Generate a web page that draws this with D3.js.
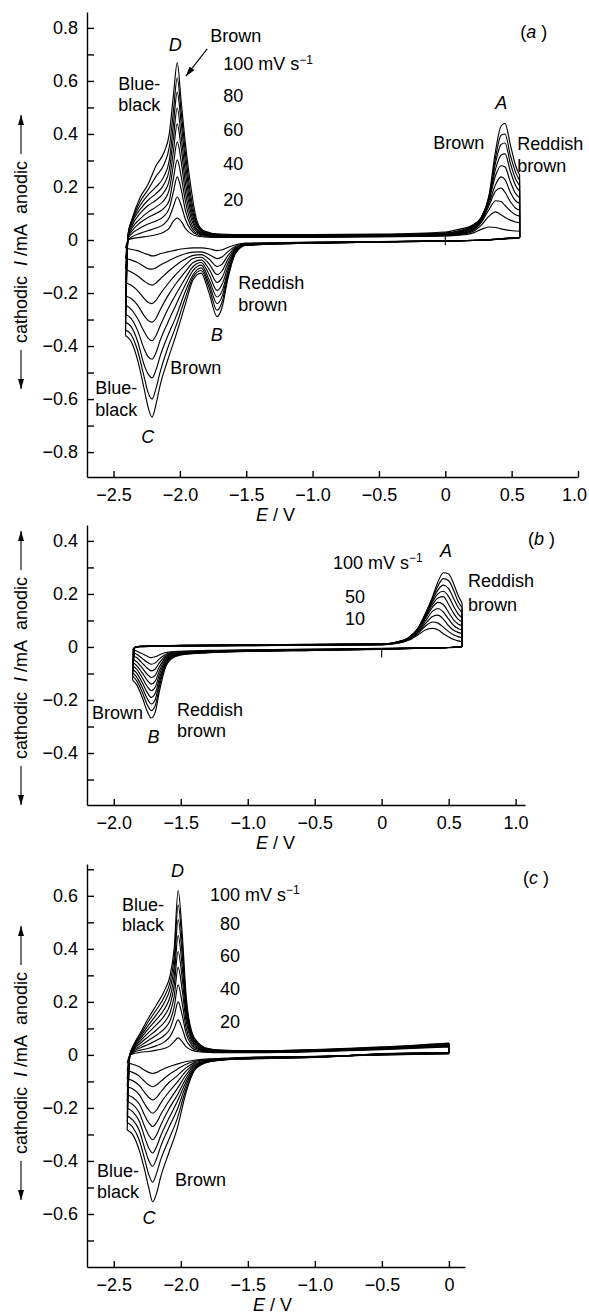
<!DOCTYPE html>
<html>
<head>
<meta charset="utf-8">
<script src="https://cdn.jsdelivr.net/npm/d3@7"></script>
<style>
  body { margin: 0; background: #fff; }
  svg text { font-family: "Liberation Sans", Arial, Helvetica, sans-serif; fill: #000; }
</style>
</head>
<body>
<script>
// scan rates, one curve each (mV/s)
const scanRates = [10, 20, 30, 40, 50, 60, 70, 80, 90, 100];

// ---- panel (a): cathodic sweep (read right to left), currents in mA
const aCathE = [-2.41, -2.37, -2.32, -2.27, -2.24, -2.21, -2.18, -2.15, -2.09, -2.03, -1.96, -1.90, -1.84, -1.78, -1.72, -1.68, -1.64, -1.58, -1.50, -1.0, -0.5, 0.0, 0.3, 0.56];
const aCathI = [
  [-0.03, -0.035, -0.04, -0.05, -0.055, -0.06, -0.058, -0.052, -0.045, -0.038, -0.032, -0.03, -0.03, -0.033, -0.04, -0.037, -0.028, -0.018, -0.012, -0.008, -0.006, -0.003, 0.0, 0.008],
  [-0.07, -0.075, -0.085, -0.10, -0.108, -0.11, -0.105, -0.095, -0.08, -0.065, -0.052, -0.046, -0.045, -0.055, -0.07, -0.063, -0.045, -0.024, -0.014, -0.009, -0.006, -0.003, 0.0, 0.008],
  [-0.11, -0.12, -0.135, -0.155, -0.165, -0.17, -0.162, -0.148, -0.12, -0.095, -0.072, -0.058, -0.055, -0.072, -0.10, -0.09, -0.06, -0.028, -0.015, -0.01, -0.007, -0.003, 0.0, 0.009],
  [-0.16, -0.17, -0.19, -0.22, -0.235, -0.24, -0.228, -0.205, -0.165, -0.13, -0.095, -0.07, -0.065, -0.09, -0.13, -0.115, -0.075, -0.032, -0.016, -0.01, -0.007, -0.003, 0.0, 0.009],
  [-0.21, -0.22, -0.245, -0.285, -0.303, -0.31, -0.295, -0.265, -0.21, -0.165, -0.12, -0.085, -0.075, -0.11, -0.16, -0.14, -0.09, -0.036, -0.017, -0.011, -0.007, -0.003, 0.0, 0.01],
  [-0.245, -0.26, -0.295, -0.345, -0.37, -0.38, -0.36, -0.325, -0.26, -0.205, -0.145, -0.10, -0.085, -0.13, -0.19, -0.165, -0.105, -0.04, -0.018, -0.011, -0.007, -0.003, 0.0, 0.01],
  [-0.28, -0.295, -0.34, -0.41, -0.44, -0.45, -0.425, -0.38, -0.31, -0.245, -0.17, -0.115, -0.095, -0.15, -0.215, -0.19, -0.12, -0.043, -0.019, -0.012, -0.008, -0.004, 0.0, 0.01],
  [-0.31, -0.325, -0.38, -0.47, -0.505, -0.52, -0.49, -0.44, -0.36, -0.29, -0.195, -0.13, -0.105, -0.165, -0.24, -0.21, -0.13, -0.046, -0.019, -0.012, -0.008, -0.004, 0.0, 0.01],
  [-0.34, -0.355, -0.415, -0.515, -0.575, -0.60, -0.56, -0.50, -0.405, -0.325, -0.22, -0.14, -0.115, -0.18, -0.265, -0.23, -0.14, -0.048, -0.02, -0.012, -0.008, -0.004, 0.0, 0.01],
  [-0.36, -0.38, -0.45, -0.56, -0.63, -0.668, -0.62, -0.55, -0.45, -0.36, -0.245, -0.15, -0.125, -0.20, -0.289, -0.25, -0.15, -0.05, -0.02, -0.012, -0.008, -0.004, 0.0, 0.01]
];
// anodic sweep
const aAnodE = [-2.41, -2.39, -2.36, -2.30, -2.24, -2.18, -2.12, -2.08, -2.05, -2.02, -1.99, -1.96, -1.92, -1.87, -1.82, -1.7, -1.5, -1.0, -0.5, 0.0, 0.1, 0.2, 0.27, 0.33, 0.38, 0.42, 0.45, 0.49, 0.53, 0.56];
const aAnodI = [
  [-0.03, 0.0, 0.005, 0.01, 0.014, 0.02, 0.03, 0.045, 0.07, 0.083, 0.07, 0.045, 0.025, 0.015, 0.012, 0.01, 0.01, 0.01, 0.012, 0.015, 0.018, 0.025, 0.04, 0.049, 0.047, 0.042, 0.039, 0.036, 0.034, 0.033],
  [-0.07, 0.0, 0.012, 0.025, 0.035, 0.045, 0.06, 0.085, 0.125, 0.162, 0.13, 0.08, 0.04, 0.02, 0.015, 0.012, 0.011, 0.011, 0.013, 0.016, 0.02, 0.03, 0.055, 0.09, 0.106, 0.095, 0.085, 0.075, 0.068, 0.065],
  [-0.11, 0.005, 0.025, 0.045, 0.06, 0.072, 0.09, 0.12, 0.18, 0.238, 0.19, 0.115, 0.055, 0.025, 0.018, 0.013, 0.012, 0.012, 0.014, 0.018, 0.022, 0.034, 0.065, 0.115, 0.148, 0.145, 0.13, 0.11, 0.095, 0.09],
  [-0.16, 0.01, 0.035, 0.065, 0.085, 0.10, 0.12, 0.15, 0.23, 0.302, 0.24, 0.15, 0.07, 0.03, 0.02, 0.015, 0.013, 0.013, 0.015, 0.019, 0.024, 0.037, 0.07, 0.13, 0.185, 0.196, 0.18, 0.145, 0.12, 0.113],
  [-0.21, 0.012, 0.045, 0.08, 0.105, 0.125, 0.15, 0.19, 0.28, 0.37, 0.295, 0.185, 0.09, 0.035, 0.022, 0.016, 0.014, 0.014, 0.016, 0.02, 0.026, 0.04, 0.075, 0.14, 0.21, 0.238, 0.228, 0.18, 0.148, 0.138],
  [-0.245, 0.015, 0.055, 0.10, 0.13, 0.15, 0.18, 0.225, 0.33, 0.438, 0.345, 0.22, 0.11, 0.04, 0.025, 0.017, 0.015, 0.015, 0.017, 0.022, 0.028, 0.044, 0.078, 0.15, 0.245, 0.28, 0.275, 0.22, 0.175, 0.16],
  [-0.28, 0.018, 0.065, 0.115, 0.15, 0.175, 0.21, 0.265, 0.38, 0.498, 0.39, 0.26, 0.13, 0.048, 0.028, 0.018, 0.016, 0.016, 0.018, 0.024, 0.03, 0.047, 0.08, 0.155, 0.27, 0.32, 0.325, 0.26, 0.205, 0.185],
  [-0.31, 0.02, 0.07, 0.13, 0.17, 0.20, 0.24, 0.30, 0.43, 0.558, 0.44, 0.30, 0.15, 0.055, 0.03, 0.019, 0.017, 0.017, 0.019, 0.025, 0.032, 0.05, 0.082, 0.16, 0.295, 0.36, 0.366, 0.29, 0.23, 0.205],
  [-0.34, 0.022, 0.075, 0.145, 0.19, 0.24, 0.285, 0.35, 0.48, 0.611, 0.48, 0.335, 0.175, 0.06, 0.032, 0.02, 0.018, 0.018, 0.02, 0.027, 0.035, 0.052, 0.084, 0.165, 0.315, 0.395, 0.40, 0.32, 0.255, 0.225],
  [-0.36, 0.025, 0.08, 0.16, 0.21, 0.28, 0.33, 0.40, 0.54, 0.668, 0.52, 0.37, 0.21, 0.07, 0.035, 0.022, 0.02, 0.02, 0.022, 0.03, 0.04, 0.055, 0.085, 0.17, 0.34, 0.43, 0.44, 0.36, 0.28, 0.245]
];

// ---- panel (b)
const bCathE = [-1.86, -1.83, -1.79, -1.75, -1.72, -1.69, -1.66, -1.62, -1.57, -1.5, -1.3, -1.0, -0.5, 0.0, 0.3, 0.5, 0.6];
const bCathI = [
  [-0.01, -0.015, -0.025, -0.035, -0.04, -0.037, -0.03, -0.022, -0.018, -0.016, -0.013, -0.011, -0.008, -0.005, -0.003, -0.002, 0.0],
  [-0.02, -0.027, -0.042, -0.058, -0.065, -0.06, -0.045, -0.03, -0.021, -0.018, -0.014, -0.012, -0.009, -0.006, -0.004, -0.002, 0.0],
  [-0.032, -0.04, -0.06, -0.08, -0.09, -0.083, -0.06, -0.037, -0.024, -0.02, -0.015, -0.013, -0.01, -0.006, -0.004, -0.002, 0.0],
  [-0.045, -0.055, -0.078, -0.103, -0.115, -0.106, -0.075, -0.044, -0.027, -0.022, -0.016, -0.014, -0.01, -0.007, -0.004, -0.002, 0.001],
  [-0.058, -0.07, -0.096, -0.126, -0.14, -0.128, -0.09, -0.05, -0.03, -0.024, -0.017, -0.014, -0.011, -0.007, -0.004, -0.002, 0.001],
  [-0.07, -0.084, -0.114, -0.149, -0.165, -0.151, -0.105, -0.057, -0.033, -0.026, -0.018, -0.015, -0.011, -0.007, -0.004, -0.002, 0.001],
  [-0.083, -0.098, -0.132, -0.172, -0.19, -0.174, -0.12, -0.064, -0.036, -0.027, -0.019, -0.015, -0.012, -0.008, -0.005, -0.002, 0.001],
  [-0.097, -0.113, -0.15, -0.195, -0.215, -0.197, -0.135, -0.071, -0.039, -0.028, -0.02, -0.016, -0.012, -0.008, -0.005, -0.002, 0.001],
  [-0.11, -0.127, -0.168, -0.218, -0.24, -0.22, -0.15, -0.078, -0.042, -0.029, -0.021, -0.016, -0.013, -0.008, -0.005, -0.002, 0.002],
  [-0.125, -0.142, -0.187, -0.243, -0.268, -0.245, -0.168, -0.086, -0.045, -0.03, -0.022, -0.017, -0.013, -0.009, -0.005, -0.003, 0.002]
];
const bAnodE = [-1.86, -1.84, -1.8, -1.7, -1.5, -1.0, -0.5, 0.0, 0.1, 0.2, 0.27, 0.33, 0.38, 0.42, 0.46, 0.5, 0.54, 0.57, 0.6];
const bAnodI = [
  [-0.01, 0.0, 0.001, 0.002, 0.003, 0.005, 0.006, 0.008, 0.012, 0.025, 0.045, 0.065, 0.07, 0.065, 0.05, 0.038, 0.028, 0.023, 0.02],
  [-0.02, 0.0, 0.001, 0.002, 0.003, 0.005, 0.007, 0.009, 0.013, 0.027, 0.05, 0.08, 0.094, 0.09, 0.075, 0.058, 0.045, 0.039, 0.035],
  [-0.032, 0.0, 0.001, 0.003, 0.004, 0.006, 0.007, 0.009, 0.014, 0.028, 0.055, 0.09, 0.115, 0.12, 0.105, 0.08, 0.062, 0.055, 0.05],
  [-0.045, 0.0, 0.002, 0.003, 0.004, 0.006, 0.008, 0.01, 0.015, 0.03, 0.058, 0.10, 0.135, 0.145, 0.132, 0.105, 0.08, 0.07, 0.065],
  [-0.058, 0.0, 0.002, 0.003, 0.005, 0.006, 0.008, 0.01, 0.015, 0.031, 0.061, 0.11, 0.15, 0.168, 0.16, 0.13, 0.1, 0.087, 0.08],
  [-0.07, 0.0, 0.002, 0.003, 0.005, 0.007, 0.009, 0.011, 0.016, 0.032, 0.064, 0.115, 0.16, 0.185, 0.19, 0.16, 0.125, 0.105, 0.095],
  [-0.083, 0.0, 0.002, 0.004, 0.005, 0.007, 0.009, 0.011, 0.016, 0.033, 0.066, 0.12, 0.17, 0.2, 0.21, 0.19, 0.15, 0.125, 0.11],
  [-0.097, 0.0, 0.002, 0.004, 0.006, 0.007, 0.009, 0.011, 0.017, 0.034, 0.068, 0.125, 0.178, 0.215, 0.233, 0.22, 0.18, 0.15, 0.13],
  [-0.11, 0.0, 0.002, 0.004, 0.006, 0.008, 0.01, 0.012, 0.017, 0.035, 0.069, 0.128, 0.185, 0.23, 0.258, 0.25, 0.21, 0.172, 0.148],
  [-0.125, 0.0, 0.002, 0.004, 0.006, 0.008, 0.01, 0.012, 0.018, 0.035, 0.07, 0.13, 0.19, 0.245, 0.28, 0.275, 0.235, 0.195, 0.166]
];

// ---- panel (c)
const cCathE = [-2.40, -2.36, -2.31, -2.27, -2.24, -2.21, -2.18, -2.15, -2.09, -2.03, -1.96, -1.90, -1.84, -1.78, -1.7, -1.6, -1.5, -1.0, -0.5, 0.0];
const cCathI = [
  [-0.03, -0.035, -0.045, -0.058, -0.066, -0.07, -0.066, -0.058, -0.045, -0.035, -0.025, -0.02, -0.017, -0.015, -0.013, -0.011, -0.009, -0.005, 0.0, 0.004],
  [-0.06, -0.066, -0.08, -0.1, -0.113, -0.12, -0.113, -0.1, -0.075, -0.055, -0.035, -0.025, -0.02, -0.017, -0.015, -0.012, -0.01, -0.006, 0.0, 0.005],
  [-0.09, -0.097, -0.115, -0.142, -0.16, -0.17, -0.16, -0.14, -0.105, -0.08, -0.048, -0.03, -0.023, -0.019, -0.016, -0.013, -0.011, -0.006, 0.001, 0.006],
  [-0.12, -0.128, -0.15, -0.185, -0.207, -0.22, -0.207, -0.182, -0.14, -0.105, -0.06, -0.035, -0.026, -0.02, -0.017, -0.014, -0.012, -0.007, 0.001, 0.007],
  [-0.15, -0.16, -0.185, -0.228, -0.255, -0.27, -0.254, -0.225, -0.175, -0.13, -0.075, -0.04, -0.028, -0.021, -0.018, -0.015, -0.012, -0.007, 0.002, 0.007],
  [-0.175, -0.187, -0.218, -0.27, -0.302, -0.32, -0.3, -0.265, -0.205, -0.155, -0.088, -0.045, -0.03, -0.022, -0.018, -0.015, -0.013, -0.008, 0.002, 0.008],
  [-0.2, -0.214, -0.25, -0.31, -0.35, -0.37, -0.345, -0.305, -0.24, -0.18, -0.1, -0.05, -0.031, -0.023, -0.019, -0.016, -0.013, -0.008, 0.003, 0.008],
  [-0.23, -0.245, -0.285, -0.352, -0.397, -0.42, -0.39, -0.345, -0.275, -0.21, -0.113, -0.054, -0.033, -0.024, -0.019, -0.016, -0.014, -0.009, 0.003, 0.009],
  [-0.255, -0.272, -0.322, -0.393, -0.45, -0.48, -0.445, -0.395, -0.32, -0.245, -0.127, -0.057, -0.034, -0.025, -0.02, -0.016, -0.015, -0.009, 0.004, 0.009],
  [-0.283, -0.30, -0.36, -0.434, -0.50, -0.554, -0.52, -0.46, -0.37, -0.283, -0.14, -0.06, -0.035, -0.025, -0.02, -0.017, -0.015, -0.01, 0.005, 0.01]
];
const cAnodE = [-2.40, -2.38, -2.35, -2.30, -2.24, -2.18, -2.12, -2.08, -2.05, -2.02, -1.99, -1.96, -1.92, -1.87, -1.82, -1.7, -1.5, -1.0, -0.5, 0.0];
const cAnodI = [
  [-0.03, 0.0, 0.005, 0.01, 0.013, 0.018, 0.025, 0.035, 0.05, 0.064, 0.05, 0.03, 0.018, 0.012, 0.01, 0.008, 0.008, 0.012, 0.02, 0.03],
  [-0.06, 0.0, 0.01, 0.018, 0.025, 0.035, 0.05, 0.07, 0.1, 0.132, 0.1, 0.055, 0.028, 0.016, 0.012, 0.009, 0.009, 0.013, 0.022, 0.032],
  [-0.09, 0.0, 0.014, 0.027, 0.04, 0.055, 0.075, 0.1, 0.145, 0.2, 0.15, 0.08, 0.038, 0.02, 0.014, 0.01, 0.01, 0.014, 0.023, 0.034],
  [-0.12, 0.0, 0.018, 0.035, 0.055, 0.075, 0.1, 0.13, 0.18, 0.264, 0.195, 0.1, 0.047, 0.024, 0.016, 0.011, 0.011, 0.015, 0.024, 0.036],
  [-0.15, 0.0, 0.022, 0.045, 0.07, 0.095, 0.125, 0.16, 0.22, 0.33, 0.245, 0.125, 0.056, 0.028, 0.018, 0.012, 0.012, 0.016, 0.025, 0.038],
  [-0.175, 0.0, 0.026, 0.054, 0.085, 0.115, 0.15, 0.19, 0.26, 0.39, 0.29, 0.145, 0.064, 0.032, 0.02, 0.013, 0.012, 0.017, 0.026, 0.04],
  [-0.2, 0.0, 0.03, 0.062, 0.1, 0.135, 0.175, 0.22, 0.295, 0.45, 0.335, 0.165, 0.072, 0.036, 0.022, 0.014, 0.013, 0.018, 0.027, 0.041],
  [-0.23, 0.0, 0.033, 0.07, 0.113, 0.153, 0.2, 0.25, 0.33, 0.51, 0.38, 0.185, 0.078, 0.04, 0.024, 0.016, 0.014, 0.019, 0.028, 0.042],
  [-0.255, 0.0, 0.037, 0.078, 0.127, 0.172, 0.222, 0.275, 0.365, 0.566, 0.42, 0.2, 0.084, 0.043, 0.026, 0.017, 0.015, 0.019, 0.029, 0.044],
  [-0.283, 0.0, 0.04, 0.085, 0.14, 0.19, 0.245, 0.30, 0.40, 0.62, 0.46, 0.22, 0.09, 0.045, 0.027, 0.018, 0.015, 0.02, 0.03, 0.045]
];

// ticks
const aXTicks = [-2.5, -2.0, -1.5, -1.0, -0.5, 0, 0.5, 1.0];
const aYTicks = [-0.8, -0.7, -0.6, -0.5, -0.4, -0.3, -0.2, -0.1, 0, 0.1, 0.2, 0.3, 0.4, 0.5, 0.6, 0.7, 0.8];
const bXTicks = [-2.0, -1.5, -1.0, -0.5, 0, 0.5, 1.0];
const bYTicks = [-0.5, -0.4, -0.3, -0.2, -0.1, 0, 0.1, 0.2, 0.3, 0.4];
const cXTicks = [-2.5, -2.0, -1.5, -1.0, -0.5, 0];
const cYTicks = [-0.7, -0.6, -0.5, -0.4, -0.3, -0.2, -0.1, 0, 0.1, 0.2, 0.3, 0.4, 0.5, 0.6, 0.7];

// annotations, placed in data units (E / V, I / mA)
const aNotes = [
  { t: "D", e: -2.035, i: 0.736, it: true, mid: true },
  { t: "Brown", e: -1.771, i: 0.77 },
  { t: "Blue-", e: -2.464, i: 0.59 },
  { t: "black", e: -2.464, i: 0.509 },
  { t: "100 mV s", sup: "\u22121", e: -1.673, i: 0.664 },
  { t: "80", e: -1.673, i: 0.543 },
  { t: "60", e: -1.673, i: 0.415 },
  { t: "40", e: -1.673, i: 0.289 },
  { t: "20", e: -1.673, i: 0.151 },
  { t: "A", e: 0.422, i: 0.519, it: true, mid: true },
  { t: "Brown", e: -0.09, i: 0.368 },
  { t: "Reddish", e: 0.543, i: 0.364 },
  { t: "brown", e: 0.543, i: 0.281 },
  { t: "Reddish", e: -1.56, i: -0.16 },
  { t: "brown", e: -1.56, i: -0.243 },
  { t: "B", e: -1.722, i: -0.358, it: true, mid: true },
  { t: "Brown", e: -2.072, i: -0.481 },
  { t: "Blue-", e: -2.638, i: -0.557 },
  { t: "black", e: -2.638, i: -0.64 },
  { t: "C", e: -2.242, i: -0.742, it: true, mid: true },
  { tag: "a", e: 0.565, i: 0.785 }
];
const aArrow = [[-1.794, 0.721], [-1.955, 0.618]];
const bNotes = [
  { tag: "b", e: 1.093, i: 0.408 },
  { t: "100 mV s", sup: "\u22121", e: -0.363, i: 0.318 },
  { t: "A", e: 0.481, i: 0.364, it: true, mid: true },
  { t: "50", e: -0.273, i: 0.19 },
  { t: "10", e: -0.273, i: 0.107 },
  { t: "Reddish", e: 0.645, i: 0.25 },
  { t: "brown", e: 0.645, i: 0.159 },
  { t: "Brown", e: -2.163, i: -0.247 },
  { t: "B", e: -1.704, i: -0.338, it: true, mid: true },
  { t: "Reddish", e: -1.528, i: -0.236 },
  { t: "brown", e: -1.528, i: -0.315 }
];
const cNotes = [
  { tag: "c", e: 0.553, i: 0.668 },
  { t: "D", e: -2.025, i: 0.694, it: true, mid: true },
  { t: "Blue-", e: -2.439, i: 0.568 },
  { t: "black", e: -2.439, i: 0.491 },
  { t: "100 mV s", sup: "\u22121", e: -1.782, i: 0.606 },
  { t: "80", e: -1.707, i: 0.494 },
  { t: "60", e: -1.707, i: 0.374 },
  { t: "40", e: -1.707, i: 0.251 },
  { t: "20", e: -1.707, i: 0.126 },
  { t: "Blue-", e: -2.625, i: -0.436 },
  { t: "black", e: -2.625, i: -0.515 },
  { t: "Brown", e: -2.043, i: -0.472 },
  { t: "C", e: -2.237, i: -0.613, it: true, mid: true }
];

const svg = d3.select("body").append("svg")
  .attr("width", 589)
  .attr("height", 1316);

svg.append("defs").append("marker")
  .attr("id", "head")
  .attr("viewBox", "0 0 10 6")
  .attr("refX", 10).attr("refY", 3)
  .attr("markerWidth", 10).attr("markerHeight", 6)
  .attr("markerUnits", "userSpaceOnUse")
  .attr("orient", "auto")
  .append("path").attr("d", "M0,0L10,3L0,6Z").attr("fill", "#000");

const panels = [
  { cathE: aCathE, cathI: aCathI, anodE: aAnodE, anodI: aAnodI,
    xd: [-2.7, 1.0], xr: [87, 578], yd: [-0.894, 0.86], yr: [477, 12],
    xt: aXTicks, yt: aYTicks, notes: aNotes, arrow: aArrow, zero: [0.02, -0.02],
    titleY: 252, eX: 256 },
  { cathE: bCathE, cathI: bCathI, anodE: bAnodE, anodI: bAnodI,
    xd: [-2.2, 1.07], xr: [87, 525], yd: [-0.596, 0.46], yr: [805, 525],
    xt: bXTicks, yt: bYTicks, notes: bNotes, zero: [-0.01, -0.04],
    titleY: 668, eX: 256 },
  { cathE: cCathE, cathI: cCathI, anodE: cAnodE, anodI: cAnodI,
    xd: [-2.7, 0.12], xr: [87, 465], yd: [-0.80, 0.72], yr: [1267, 864],
    xt: cXTicks, yt: cYTicks, notes: cNotes,
    titleY: 1063, eX: 253 }
];

const fmt = d => d === 0 ? "0" : (d < 0 ? "\u2212" : "") + Math.abs(d).toFixed(1);

panels.forEach(p => {
  const x = d3.scaleLinear().domain(p.xd).range(p.xr);
  const y = d3.scaleLinear().domain(p.yd).range(p.yr);
  const g = svg.append("g");

  const smooth = d3.line().x(d => x(d[0])).y(d => y(d[1])).curve(d3.curveMonotoneX);
  const straight = d3.line().x(d => x(d[0])).y(d => y(d[1]));

  // one closed voltammogram per scan rate
  scanRates.forEach((rate, k) => {
    const ci = p.cathI[k], ai = p.anodI[k];
    const cath = p.cathE.map((e, j) => [e, ci[j]]);
    const anod = p.anodE.map((e, j) => [e, ai[j]]);
    const na = p.anodE.length - 1, nc = p.cathE.length - 1;
    const turn = [[p.anodE[na], ai[na]], [p.cathE[nc], ci[nc]]];
    g.append("path")
      .attr("d", smooth(cath) + smooth(anod) + straight(turn))
      .attr("fill", "none")
      .attr("stroke", "#000")
      .attr("stroke-width", 1.15)
      .attr("stroke-linejoin", "round");
  });

  if (p.zero) {
    g.append("path")
      .attr("d", straight([[0, p.zero[0]], [0, p.zero[1]]]))
      .attr("stroke", "#000").attr("stroke-width", 1.1);
  }

  // axes, ticks inward
  const yAxis = d3.axisLeft(y).tickValues(p.yt).tickSize(-7).tickSizeOuter(0).tickPadding(9)
    .tickFormat(d => Math.round(d * 10) % 2 === 0 ? fmt(d) : "");
  const xAxis = d3.axisBottom(x).tickValues(p.xt).tickSize(-6).tickSizeOuter(0).tickPadding(11)
    .tickFormat(fmt);
  const ya = g.append("g").attr("transform", `translate(${p.xr[0]},0)`).call(yAxis);
  const xa = g.append("g").attr("transform", `translate(0,${p.yr[0]})`).call(xAxis);
  [ya, xa].forEach(a => {
    a.selectAll("path, line").attr("stroke", "#000").attr("stroke-width", 1.4);
    a.selectAll("text").style("font-size", "18px")
      .style("font-family", '"Liberation Sans", Arial, Helvetica, sans-serif');
  });
  // keep the last label inside the page edge
  xa.selectAll("text").attr("dx", d => x(d) > 570 ? "-0.22em" : null);

  // x title
  const et = g.append("text").attr("x", p.eX).attr("y", p.yr[0] + 44).style("font-size", "18px");
  et.append("tspan").style("font-style", "italic").text("E");
  et.append("tspan").text("\u00a0/\u00a0V");

  // y title with arrows
  const yt = g.append("g").attr("transform", `translate(21,${p.titleY}) rotate(-90)`);
  const tt = yt.append("text").attr("text-anchor", "middle").attr("dy", "0.35em").style("font-size", "18px");
  tt.append("tspan").text("cathodic\u00a0\u00a0");
  tt.append("tspan").style("font-style", "italic").text("I");
  tt.append("tspan").text("\u00a0/mA\u00a0\u00a0anodic");
  const half = tt.node().getComputedTextLength() / 2;
  [[-1, 137], [1, 137]].forEach(([s, tip]) => {
    yt.append("line")
      .attr("x1", s * (half + 7)).attr("x2", s * tip)
      .attr("y1", 0).attr("y2", 0)
      .attr("stroke", "#000").attr("stroke-width", 1.1)
      .attr("marker-end", "url(#head)");
  });

  // labels
  p.notes.forEach(n => {
    const t = g.append("text")
      .attr("x", x(n.e)).attr("y", y(n.i)).attr("dy", "0.35em")
      .attr("text-anchor", n.mid ? "middle" : "start")
      .style("font-size", "18px");
    if (n.tag) {
      t.append("tspan").text("(");
      t.append("tspan").style("font-style", "italic").text(n.tag);
      t.append("tspan").text("\u00a0)");
    } else {
      t.append("tspan").style("font-style", n.it ? "italic" : "normal").text(n.t);
      if (n.sup) t.append("tspan").attr("dy", "-0.55em").style("font-size", "12px").text(n.sup);
    }
  });

  if (p.arrow) {
    g.append("line")
      .attr("x1", x(p.arrow[0][0])).attr("y1", y(p.arrow[0][1]))
      .attr("x2", x(p.arrow[1][0])).attr("y2", y(p.arrow[1][1]))
      .attr("stroke", "#000").attr("stroke-width", 1.1)
      .attr("marker-end", "url(#head)");
  }
});
</script>
</body>
</html>
